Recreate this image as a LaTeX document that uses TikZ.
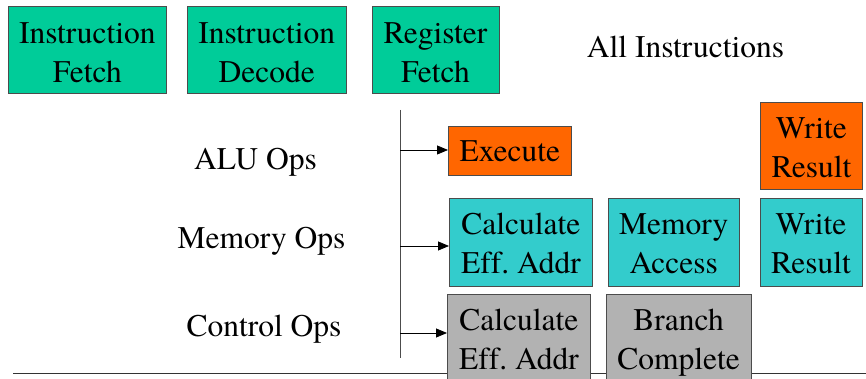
\documentclass[tikz,border=0pt]{standalone}
\usepackage{fontspec}
\setmainfont{TeX Gyre Termes}[Ligatures=NoCommon]
\frenchspacing
\usepackage{tikz}
\usetikzlibrary{arrows.meta, positioning}

\definecolor{fetchgreen}{RGB}{0,204,153}
\definecolor{aluorange}{RGB}{255,102,0}
\definecolor{memcyan}{RGB}{51,204,204}
\definecolor{ctrlgray}{RGB}{178,178,178}

\begin{document}
\begin{tikzpicture}[
  x=1pt, y=1pt,
  node distance=20pt and 20pt,
  font=\fontsize{31.5}{39}\selectfont,
  stage/.style={rectangle, draw=black!70, line width=0.8pt, align=center, inner sep=0pt,
    minimum height=87pt, text height=70pt, text depth=7pt},
  oplabel/.style={anchor=base, inner sep=0pt},
  arrow/.style={-{Triangle[length=11pt, width=9pt]}, line width=0.8pt},
]
  \useasboundingbox (0,0) rectangle (866,379);

  % baseline under everything
  \draw[black!80, line width=0.8pt] (13,6) -- (866,6);

  % common front end
  \node[stage, fill=fetchgreen, minimum width=158pt, text height=72pt, anchor=north west] (ifetch) at (8,373) {Instruction\\Fetch};
  \node[stage, fill=fetchgreen, minimum width=159pt, text height=72pt, right=20pt of ifetch] (idecode) {Instruction\\Decode};
  \node[stage, fill=fetchgreen, minimum width=127pt, text height=72pt, right=25pt of idecode] (rfetch) {Register\\Fetch};
  \node[oplabel] (allins) at (685.5,321) {All Instructions};

  % per-class labels
  \node[oplabel] (alu) at (255.5,209) {ALU Ops};
  \node[oplabel] (mem) at (261.5,130) {Memory Ops};
  \node[oplabel] (ctrl) at (264,42) {Control Ops};

  % ALU ops
  \node[stage, fill=aluorange, minimum width=123pt, minimum height=49pt, text height=22pt, text depth=0pt, anchor=west] (exec) at (448,228.5) {Execute};
  \node[stage, fill=aluorange, minimum width=102pt, anchor=north west] (wbalu) at (760,277) {Write\\Result};

  % memory ops
  \node[stage, fill=memcyan, minimum width=143pt, minimum height=88pt, anchor=north west] (memaddr) at (449,181) {Calculate\\Eff. Addr};
  \node[stage, fill=memcyan, minimum width=131pt, minimum height=88pt, right=15pt of memaddr] (memacc) {Memory\\Access};
  \node[stage, fill=memcyan, minimum width=102pt, minimum height=88pt, right=20pt of memacc] (wbmem) {Write\\Result};

  % control ops
  \node[stage, fill=ctrlgray, minimum width=143pt, anchor=north west] (braddr) at (447,85) {Calculate\\Eff. Addr};
  \node[stage, fill=ctrlgray, minimum width=145pt, right=15pt of braddr] (brdone) {Branch\\Complete};

  % dispatch spine
  \coordinate (spinetop) at (400,269);
  \coordinate (spinebot) at (400,21);
  \coordinate (alutap) at (400,229);
  \coordinate (memtap) at (400,133);
  \coordinate (ctrltap) at (400,46);
  \draw[black!70, line width=0.8pt] (spinetop) -- (spinebot);
  \draw[arrow] (alutap) -- (alutap -| exec.west);
  \draw[arrow] (memtap) -- (memtap -| memaddr.west);
  \draw[arrow] (ctrltap) -- (ctrltap -| braddr.west);
\end{tikzpicture}
\end{document}
